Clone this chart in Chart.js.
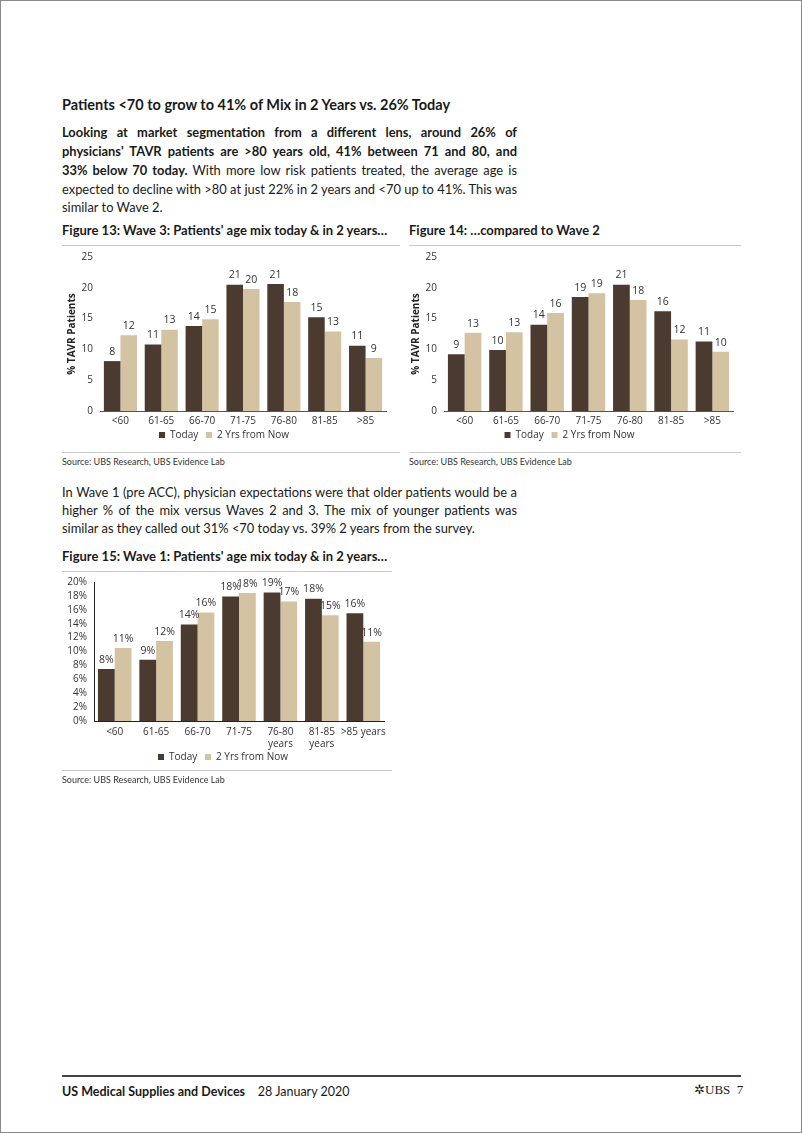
<!DOCTYPE html>
<html>
<head>
<meta charset="utf-8">
<script src="https://cdn.jsdelivr.net/npm/chart.js@4"></script>
<style>
  html,body{margin:0;padding:0;background:#fff;}
  body{width:802px;height:1133px;position:relative;overflow:hidden;font-family:Lato,"Open Sans",sans-serif;color:#1a1a1a;}
  .frame{position:absolute;left:0;top:0;width:800px;height:1131px;border:1px solid #8a8a8a;}
  .abs{position:absolute;}
  .h1{left:62px;top:96px;font-size:14.5px;font-weight:700;white-space:nowrap;}
  .ln{position:absolute;left:62px;width:455px;font-size:12.9px;line-height:19px;height:19px;overflow:visible;text-align:justify;text-align-last:justify;}
  .ln.last{text-align-last:left;}
  .ftitle{font-size:13px;font-weight:700;white-space:nowrap;}
  .rule{height:1px;background:#c8c8c8;}
  .src{font-size:9px;color:#333;white-space:nowrap;}
  canvas{position:absolute;}
</style>
</head>
<body>
<div class="frame"></div>

<div class="abs h1">Patients &lt;70 to grow to 41% of Mix in 2 Years vs. 26% Today</div>
<div class="ln" style="top:123px;"><b>Looking at market segmentation from a different lens, around 26% of</b></div>
<div class="ln" style="top:142px;"><b>physicians' TAVR patients are &gt;80 years old, 41% between 71 and 80, and</b></div>
<div class="ln" style="top:161px;"><b>33% below 70 today.</b> With more low risk patients treated, the average age is</div>
<div class="ln" style="top:180px;">expected to decline with &gt;80 at just 22% in 2 years and &lt;70 up to 41%. This was</div>
<div class="ln last" style="top:198px;">similar to Wave 2.</div>

<div class="abs ftitle" style="left:62px;top:222px;">Figure 13: Wave 3: Patients' age mix today &amp; in 2 years…</div>
<div class="abs rule" style="left:62px;top:245px;width:338px;"></div>
<canvas id="c13" width="340" height="206" style="left:62px;top:244px;"></canvas>
<div class="abs rule" style="left:62px;top:452px;width:338px;"></div>
<div class="abs src" style="left:62px;top:456px;">Source: UBS Research, UBS Evidence Lab</div>

<div class="abs ftitle" style="left:409px;top:222px;">Figure 14: …compared to Wave 2</div>
<div class="abs rule" style="left:409px;top:245px;width:332px;"></div>
<canvas id="c14" width="340" height="206" style="left:406px;top:244px;"></canvas>
<div class="abs rule" style="left:409px;top:452px;width:332px;"></div>
<div class="abs src" style="left:409px;top:456px;">Source: UBS Research, UBS Evidence Lab</div>

<div class="ln" style="top:483px;">In Wave 1 (pre ACC), physician expectations were that older patients would be a</div>
<div class="ln" style="top:501px;">higher % of the mix versus Waves 2 and 3. The mix of younger patients was</div>
<div class="ln last" style="top:519px;">similar as they called out 31% &lt;70 today vs. 39% 2 years from the survey.</div>

<div class="abs ftitle" style="left:62px;top:548px;">Figure 15: Wave 1: Patients' age mix today &amp; in 2 years…</div>
<div class="abs rule" style="left:62px;top:571px;width:330px;"></div>
<canvas id="c15" width="330" height="203" style="left:62px;top:569px;"></canvas>
<div class="abs rule" style="left:62px;top:770px;width:330px;"></div>
<div class="abs src" style="left:62px;top:774px;">Source: UBS Research, UBS Evidence Lab</div>

<div class="abs" style="left:62px;top:1075px;width:679px;height:2px;background:#444;"></div>
<div class="abs" style="left:62px;top:1084px;font-size:12.5px;white-space:nowrap;"><b>US Medical Supplies and Devices</b>&nbsp;&nbsp;&nbsp; 28 January 2020</div>
<div class="abs" style="left:694px;top:1082px;font-size:13px;font-family:'Liberation Serif',serif;white-space:nowrap;">✲UBS&nbsp; 7</div>

<script>
const categories = ["<60","61-65","66-70","71-75","76-80","81-85",">85"];
const categories15 = ["<60","61-65","66-70","71-75",["76-80","years"],["81-85","years"],">85 years"];
const seriesNames = ["Today","2 Yrs from Now"];

const w3Today = [8.1, 10.8, 13.8, 20.5, 20.6, 15.2, 10.6];
const w3TwoYrs = [12.3, 13.2, 14.9, 19.8, 17.7, 12.9, 8.6];

const w2Today = [9.2, 9.9, 14.0, 18.5, 20.5, 16.2, 11.3];
const w2TwoYrs = [12.7, 12.8, 15.9, 19.1, 18.0, 11.6, 9.6];

const w1Today = [7.5, 8.8, 13.9, 17.9, 18.5, 17.6, 15.5];
const w1TwoYrs = [10.5, 11.5, 15.6, 18.4, 17.2, 15.2, 11.4];

const yTicks13 = [0,5,10,15,20,25];
const yTicks15 = [0,2,4,6,8,10,12,14,16,18,20];

const DARK = "#4b3a2f";
const TAN = "#d4c3a2";
const FONT = "'Open Sans','Noto Sans',sans-serif";
Chart.defaults.font.family = FONT;
Chart.defaults.color = "#333";

const valueLabels = {
  id: "valueLabels",
  afterDatasetsDraw(chart, args, opts) {
    const ctx = chart.ctx;
    ctx.save();
    ctx.font = "10.5px " + FONT;
    ctx.fillStyle = "#333";
    ctx.textAlign = "center";
    ctx.textBaseline = "bottom";
    chart.data.datasets.forEach((ds, di) => {
      const meta = chart.getDatasetMeta(di);
      meta.data.forEach((bar, i) => {
        const v = Math.round(ds.data[i]);
        ctx.fillText(v + (opts.suffix || ""), bar.x, bar.y - 4);
      });
    });
    ctx.restore();
  }
};

function legendLabels(chart) {
  const items = Chart.defaults.plugins.legend.labels.generateLabels(chart);
  if (items.length) items[0].text = items[0].text + "   ";
  return items;
}

function makeChart(id, labels, a, b, opt) {
  return new Chart(document.getElementById(id), {
    type: "bar",
    data: {
      labels: labels,
      datasets: [
        {label: seriesNames[0], data: a, backgroundColor: DARK, categoryPercentage: 0.81, barPercentage: 1.0},
        {label: seriesNames[1], data: b, backgroundColor: TAN, categoryPercentage: 0.81, barPercentage: 1.0}
      ]
    },
    options: {
      responsive: false,
      devicePixelRatio: 1,
      animation: false,
      layout: {padding: opt.padding},
      plugins: {
        legend: {
          position: "bottom",
          labels: {boxWidth: 6, boxHeight: 6, padding: 0, font: {size: 10}, color: "#333", generateLabels: legendLabels}
        },
        tooltip: {enabled: false},
        valueLabels: {suffix: opt.suffix}
      },
      scales: {
        x: {
          grid: {display: false, drawTicks: false},
          border: {display: true, color: opt.axisColor, width: 1},
          afterFit: (s) => { s.height = opt.xHeight; },
          ticks: {font: {size: 10, lineHeight: 1.2}, color: "#333", padding: opt.xPad, maxRotation: 0, autoSkip: false}
        },
        y: {
          min: 0, max: opt.max,
          grid: {display: false, drawTicks: false},
          border: {display: opt.yBorder, color: "#222", width: 1},
          afterBuildTicks: (s) => { s.ticks = opt.ticks.map(v => ({value: v})); },
          afterFit: (s) => { s.width = opt.yWidth; },
          ticks: {font: {size: 10}, color: "#333", padding: 7, autoSkip: false,
                  callback: (v) => v + (opt.suffix || "")},
          title: opt.yTitle ? {display: true, text: opt.yTitle, font: {size: 10, weight: "bold"}, color: "#222", padding: 4} : {display: false}
        }
      }
    },
    plugins: [valueLabels]
  });
}

makeChart("c13", categories, w3Today, w3TwoYrs,
  {max: 25, ticks: yTicks13, yWidth: 38, xHeight: 19, xPad: 4, yTitle: "% TAVR Patients", axisColor: "#555", yBorder: false, padding: {top: 2, right: 16, left: 0, bottom: 0}});
makeChart("c14", categories, w2Today, w2TwoYrs,
  {max: 25, ticks: yTicks13, yWidth: 38, xHeight: 19, xPad: 4, yTitle: "% TAVR Patients", axisColor: "#555", yBorder: false, padding: {top: 2, right: 13, left: 0, bottom: 0}});
makeChart("c15", categories15, w1Today, w1TwoYrs,
  {max: 20, ticks: yTicks15, yWidth: 32, xHeight: 31, xPad: 5, yTitle: null, suffix: "%", axisColor: "#222", yBorder: true, padding: {top: 2, right: 8, left: 0, bottom: 0}});
</script>
</body>
</html>
